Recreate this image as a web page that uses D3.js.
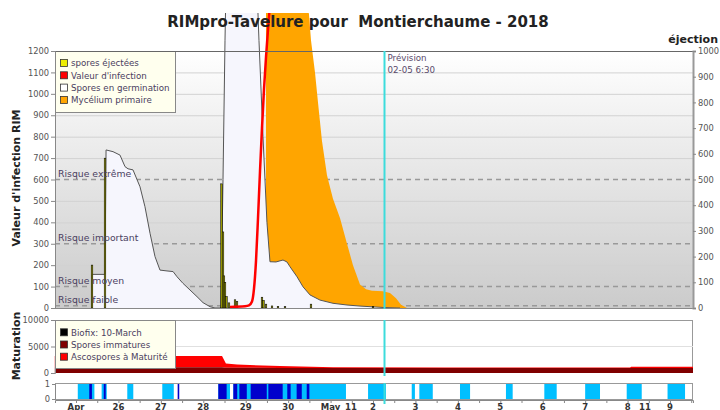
<!DOCTYPE html>
<html><head><meta charset="utf-8">
<script src="https://cdn.jsdelivr.net/npm/d3@7"></script>
<style>body{margin:0;background:#fff} svg{display:block;font-family:"DejaVu Sans",sans-serif}</style>
</head><body><svg id="c" width="720" height="410"></svg>
<script>
// ---------- DATA ----------
const timeDomain = ["04-24 12:07", "05-09 13:00"];
const xLabels = [["04-25 00:00","Apr"],["04-26 00:00","26"],["04-27 00:00","27"],["04-28 00:00","28"],["04-29 00:00","29"],["04-30 00:00","30"],["05-01 00:00","May"],["05-01 11:30","11"],["05-02 00:00","2"],["05-03 00:00","3"],["05-04 00:00","4"],["05-05 00:00","5"],["05-06 00:00","6"],["05-07 00:00","7"],["05-08 00:00","8"],["05-08 09:50","11"],["05-09 00:00","9"]];
const leftTicks = [0,100,200,300,400,500,600,700,800,900,1000,1100,1200];
const rightTicks = [0,100,200,300,400,500,600,700,800,900,1000];
const maturationTicks = [0,5000,10000];
const riskLevels = [600, 300, 100, 10];
const riskNames = ["Risque extrême","Risque important","Risque moyen","Risque faible"];

// Spores en germination (RIM units)
const germination = [
 ["04-25 09:00",0],["04-25 09:03",157],["04-25 16:24",157],["04-25 17:00",738],["04-25 20:56",730],
 ["04-26 00:53",714],["04-26 03:43",660],["04-26 05:25",650],["04-26 08:14",645],["04-26 12:12",566],
 ["04-26 15:00",473],["04-26 17:52",349],["04-26 20:41",240],["04-26 23:30",177],["04-27 03:28",173],
 ["04-27 06:55",170],["04-27 09:08",146],["04-27 12:31",115],["04-27 16:29",84],["04-27 20:26",53],
 ["04-27 23:50",25],["04-28 03:48",6],["04-28 06:37",0],["04-28 10:00",0],["04-28 11:09",600],
 ["04-28 12:17",1250],["04-28 12:50",1500],["04-29 06:22",1500],["04-29 07:30",1250],["04-29 09:46",800],
 ["04-29 12:00",400],["04-29 13:43",216],["04-29 17:07",215],["04-29 21:05",224],["04-29 23:20",215],
 ["04-30 01:02",193],["04-30 05:00",146],["04-30 08:24",99],["04-30 12:22",61],["04-30 18:00",37],
 ["05-01 01:21",22],["05-01 09:17",14],["05-01 16:38",9],["05-02 06:46",2],["05-02 15:15",0]
];
// Mycélium primaire (top of stacked area, RIM units)
const mycelium = [
 ["04-29 11:27",0],["04-29 11:28",1500],["04-30 09:32",1500],["04-30 11:47",1370],["04-30 12:55",1250],
 ["04-30 15:11",1100],["04-30 16:53",960],["04-30 19:08",780],["04-30 21:58",620],["05-01 01:21",510],
 ["05-01 05:19",420],["05-01 09:17",300],["05-01 12:40",200],["05-01 16:38",110],["05-01 20:02",88],
 ["05-01 23:25",80],["05-02 05:38",78],["05-02 09:36",70],["05-02 13:00",45],["05-02 15:50",15],["05-02 19:13",0]
];
// Valeur d'infection (RIM units)
const infection = [
 ["04-28 15:06",5],["04-28 23:36",8],["04-29 01:51",12],["04-29 03:33",30],["04-29 04:41",90],
 ["04-29 05:49",220],["04-29 06:57",420],["04-29 08:05",640],["04-29 09:12",840],["04-29 10:20",1020],
 ["04-29 11:28",1170],["04-29 12:36",1300],["04-29 14:18",1480]
];
// spores éjectées (éjection units, right axis)
const ejections = [
 ["04-25 09:03",167],["04-25 16:24",583],["04-28 10:18",483],["04-28 11:09",296],["04-28 11:42",125],
 ["04-28 12:17",100],["04-28 13:07",45],["04-28 14:32",20],["04-28 17:56",32],["04-28 19:04",25],
 ["04-29 09:12",42],["04-29 10:03",30],["04-29 11:28",15],["04-29 14:52",8],["04-29 18:15",6],
 ["04-29 22:13",5],["04-30 12:55",15],["05-02 00:00",5]
];
// Maturation panel
const immature = [["04-24 12:00",1100],["04-28 10:36",1100],["04-28 12:48",1000],["04-29 19:24",950],["05-01 01:24",950],["05-09 13:00",950]];
const mature = [["04-24 12:00",2100],["04-28 10:36",2100],["04-28 12:48",800],["04-28 19:06",600],["04-29 19:24",350],["05-01 01:24",150],["05-03 16:42",80],["05-08 01:24",80],["05-08 02:00",250],["05-09 13:00",250]];
// Wetness strip
const wetLight = [["04-25 01:00","04-25 10:24"],["04-25 14:30","04-25 17:24"],["04-26 05:00","04-26 08:24"],["04-27 00:48","04-27 07:18"],["04-28 08:30","04-28 15:06"],["04-28 17:00","05-01 08:42"],["05-01 21:12","05-02 07:18"],["05-02 21:54","05-02 23:42"],["05-03 02:12","05-03 09:48"],["05-04 01:12","05-04 06:54"],["05-05 03:12","05-05 07:00"],["05-06 00:54","05-06 07:54"],["05-07 00:00","05-07 08:24"],["05-07 23:30","05-08 08:00"],["05-08 22:36","05-09 08:30"]];
const wetDark = [["04-25 07:30","04-25 09:00"],["04-25 15:42","04-25 16:48"],["04-27 09:30","04-27 10:24"],["04-28 08:30","04-28 13:12"],["04-28 17:00","04-28 19:12"],["04-28 20:24","04-29 00:36"],["04-29 02:48","04-29 11:54"],["04-29 12:48","04-29 20:54"],["04-29 23:30","04-30 01:24"],["04-30 04:48","04-30 07:42"],["04-30 10:30","04-30 12:00"]];
const forecastTime = "05-02 06:30";
const forecastLabel = ["Prévision","02-05 6:30"];
const legend1 = [["spores éjectées","#eeee00"],["Valeur d'infection","#ff0000"],["Spores en germination","#ffffff"],["Mycélium primaire","#ffa500"]];
const legend2 = [["Biofix: 10-March","#000000"],["Spores immatures","#800000"],["Ascospores à Maturité","#ff0000"]];

// ---------- CHART ----------
const P = d3.timeParse("%Y-%m-%d %H:%M");
const T = s => P("2018-" + s);
const svg = d3.select("#c");
const L = 55, R = 693;
const x = d3.scaleTime().domain(timeDomain.map(T)).range([L, R]);
const yL = d3.scaleLinear().domain([0,1200]).range([308,51]);
const yR = d3.scaleLinear().domain([0,1000]).range([308,51]);
const yM = d3.scaleLinear().domain([0,10000]).range([373,320]);
const yS = d3.scaleLinear().domain([0,1]).range([399,384]);
const fmt = d3.format("d");

const defs = svg.append("defs");
const g = defs.append("linearGradient").attr("id","bg").attr("x1",0).attr("y1",0).attr("x2",0).attr("y2",1);
g.append("stop").attr("offset","0%").attr("stop-color","#ffffff");
g.append("stop").attr("offset","100%").attr("stop-color","#cbcbcb");
defs.append("clipPath").attr("id","clipMain").append("rect").attr("x",L).attr("y",13).attr("width",R-L).attr("height",308-13);

// main background
svg.append("rect").attr("x",L).attr("y",51).attr("width",R-L).attr("height",257).attr("fill","url(#bg)");
// grid
svg.append("g").selectAll("line").data(leftTicks.filter(v => v>0 && !riskLevels.includes(v))).join("line")
  .attr("x1",L).attr("x2",R).attr("y1",d=>yL(d)+0.5).attr("y2",d=>yL(d)+0.5).attr("stroke","#d2d2d2");
svg.append("g").selectAll("line").data(riskLevels).join("line")
  .attr("x1",L).attr("x2",R).attr("y1",d=>yL(d)).attr("y2",d=>yL(d))
  .attr("stroke","#999").attr("stroke-width",1.5).attr("stroke-dasharray","5,4");

const data = svg.append("g").attr("clip-path","url(#clipMain)");
data.append("path").datum(mycelium)
  .attr("d", d3.area().x(d=>x(T(d[0]))).y0(yL(0)).y1(d=>yL(d[1])))
  .attr("fill","#ffa500");
data.append("path").datum(germination)
  .attr("d", d3.area().x(d=>x(T(d[0]))).y0(yL(0)).y1(d=>yL(d[1])))
  .attr("fill","#f6f6fd");
data.append("path").datum(germination)
  .attr("d", d3.line().x(d=>x(T(d[0]))).y(d=>yL(d[1])))
  .attr("fill","none").attr("stroke","#555").attr("stroke-width",1);
data.append("g").selectAll("rect").data(ejections).join("rect")
  .attr("x",d=>x(T(d[0]))-0.8).attr("width",1.6)
  .attr("y",d=>yR(d[1])).attr("height",d=>yR(0)-yR(d[1]))
  .attr("fill","#9a9a00").attr("stroke","#000").attr("stroke-width",0.5);
data.append("path").datum(infection)
  .attr("d", d3.line().curve(d3.curveMonotoneX).x(d=>x(T(d[0]))).y(d=>yL(d[1])))
  .attr("fill","none").attr("stroke","#ff0000").attr("stroke-width",2.5);

// risk labels
svg.append("g").selectAll("text").data(riskLevels).join("text")
  .attr("x",58).attr("y",d=>yL(d)-3).text((d,i)=>riskNames[i])
  .attr("font-size",9.3).attr("fill","#4a4060");

// legend 1
const lg1 = svg.append("g");
lg1.append("rect").attr("x",L+0.5).attr("y",51.5).attr("width",120).attr("height",61).attr("fill","#ffffee").attr("stroke","#888");
legend1.forEach((d,i)=>{
  const yy = 63 + i*12.3;
  lg1.append("rect").attr("x",60.5).attr("y",yy-3.5).attr("width",7).attr("height",7).attr("fill",d[1]).attr("stroke","#333").attr("stroke-width",0.8);
  lg1.append("text").attr("x",71).attr("y",yy+3.2).text(d[0]).attr("font-size",8.7).attr("fill","#4a4060");
});

// frame lines main
svg.append("line").attr("x1",L).attr("x2",R).attr("y1",51.5).attr("y2",51.5).attr("stroke","#666");
svg.append("line").attr("x1",L).attr("x2",R).attr("y1",308.5).attr("y2",308.5).attr("stroke","#888");

// axes
function styleAxis(sel){
  sel.selectAll("text").attr("font-size",8.3).attr("fill","#555").attr("font-family","DejaVu Sans");
  sel.selectAll("line").attr("stroke","#888");
  sel.select(".domain").attr("stroke","#888");
}
svg.append("g").attr("transform",`translate(${L},0)`).call(d3.axisLeft(yL).tickValues(leftTicks).tickFormat(fmt).tickSize(4).tickPadding(2)).call(styleAxis);
svg.append("g").attr("transform",`translate(${R},0)`).call(d3.axisRight(yR).tickValues(rightTicks).tickFormat(fmt).tickSize(3).tickPadding(2)).call(s=>{styleAxis(s); s.select(".domain").attr("stroke","#999").attr("stroke-width",2);});

// title
svg.append("text").attr("x",358).attr("y",27).attr("text-anchor","middle").style("white-space","pre")
  .attr("font-size",15).attr("font-weight","bold").attr("fill","#222").text("RIMpro-Tavelure pour  Montierchaume - 2018");
svg.append("text").attr("x",718).attr("y",43).attr("text-anchor","end").attr("font-size",11).attr("font-weight","bold").attr("fill","#222").text("éjection");
svg.append("text").attr("transform","translate(20,178) rotate(-90)").attr("text-anchor","middle")
  .attr("font-size",11).attr("font-weight","bold").attr("fill","#222").text("Valeur d'infection RIM");

// ---------- Maturation panel ----------
svg.append("rect").attr("x",L+0.5).attr("y",320.5).attr("width",R-L-1).attr("height",52).attr("fill","#fff").attr("stroke","#999");
svg.append("line").attr("x1",L).attr("x2",R).attr("y1",yM(5000)).attr("y2",yM(5000)).attr("stroke","#e0e0e0");
const immMap = immature.map(d=>[T(d[0]),d[1]]);
const immAt = t => { const i = d3.bisector(d=>d[0]).left(immMap,t); if(i<=0) return immMap[0][1]; if(i>=immMap.length) return immMap[immMap.length-1][1];
  const a=immMap[i-1], b=immMap[i]; return a[1]+(b[1]-a[1])*(t-a[0])/(b[0]-a[0]); };
svg.append("path").datum(mature)
  .attr("d", d3.area().x(d=>x(T(d[0]))).y0(d=>yM(immAt(T(d[0])))).y1(d=>yM(immAt(T(d[0]))+d[1])))
  .attr("fill","#ff0000");
svg.append("path").datum(immature)
  .attr("d", d3.area().x(d=>x(T(d[0]))).y0(yM(0)).y1(d=>yM(d[1])))
  .attr("fill","#800000");
svg.append("g").attr("transform",`translate(${L},0)`).call(d3.axisLeft(yM).tickValues(maturationTicks).tickFormat(fmt).tickSize(4).tickPadding(2)).call(styleAxis);
const lg2 = svg.append("g");
lg2.append("rect").attr("x",L+0.5).attr("y",320.5).attr("width",120).attr("height",48).attr("fill","#ffffee").attr("stroke","#888");
legend2.forEach((d,i)=>{
  const yy = 332.3 + i*12.2;
  lg2.append("rect").attr("x",60.5).attr("y",yy-3.5).attr("width",7).attr("height",7).attr("fill",d[1]).attr("stroke","#333").attr("stroke-width",0.8);
  lg2.append("text").attr("x",71).attr("y",yy+3.2).text(d[0]).attr("font-size",8.7).attr("fill","#4a4060");
});
svg.append("text").attr("transform","translate(20,346) rotate(-90)").attr("text-anchor","middle")
  .attr("font-size",11).attr("font-weight","bold").attr("fill","#222").text("Maturation");

// ---------- Wetness strip ----------
svg.append("rect").attr("x",L+0.5).attr("y",383.5).attr("width",R-L-1).attr("height",16).attr("fill","#fff").attr("stroke","#999");
svg.append("g").selectAll("rect").data(wetLight).join("rect")
  .attr("x",d=>x(T(d[0]))).attr("width",d=>x(T(d[1]))-x(T(d[0]))).attr("y",yS(1)).attr("height",yS(0)-yS(1)).attr("fill","#00bfff");
svg.append("g").selectAll("rect").data(wetDark).join("rect")
  .attr("x",d=>x(T(d[0]))).attr("width",d=>x(T(d[1]))-x(T(d[0]))).attr("y",yS(1)).attr("height",yS(0)-yS(1)).attr("fill","#0000cc");
svg.append("g").attr("transform",`translate(${L},0)`).call(d3.axisLeft(yS).tickValues([0,1]).tickFormat(fmt).tickSize(3).tickPadding(2)).call(styleAxis);

// x axis
const halfDays = d3.timeHour.every(12).range(x.domain()[0], x.domain()[1]);
svg.append("g").attr("transform","translate(0,400)").call(d3.axisBottom(x).tickValues(halfDays).tickSize(3).tickFormat("")).call(styleAxis);
svg.append("g").selectAll("text").data(xLabels).join("text")
  .attr("x",d=>x(T(d[0]))).attr("y",409.5).attr("text-anchor","middle").text(d=>d[1])
  .attr("font-size",8.5).attr("font-weight","bold").attr("fill","#333");

// forecast line
const fx = x(T(forecastTime));
[[51,309],[320,376],[383,404]].forEach(r=>svg.append("line").attr("x1",fx).attr("x2",fx).attr("y1",r[0]).attr("y2",r[1]).attr("stroke","#3cdcdc").attr("stroke-width",2));
forecastLabel.forEach((t,i)=>svg.append("text").attr("x",fx+3).attr("y",61+i*12).attr("font-size",8.7).attr("fill","#5a4a6a").text(t));
</script></body></html>
